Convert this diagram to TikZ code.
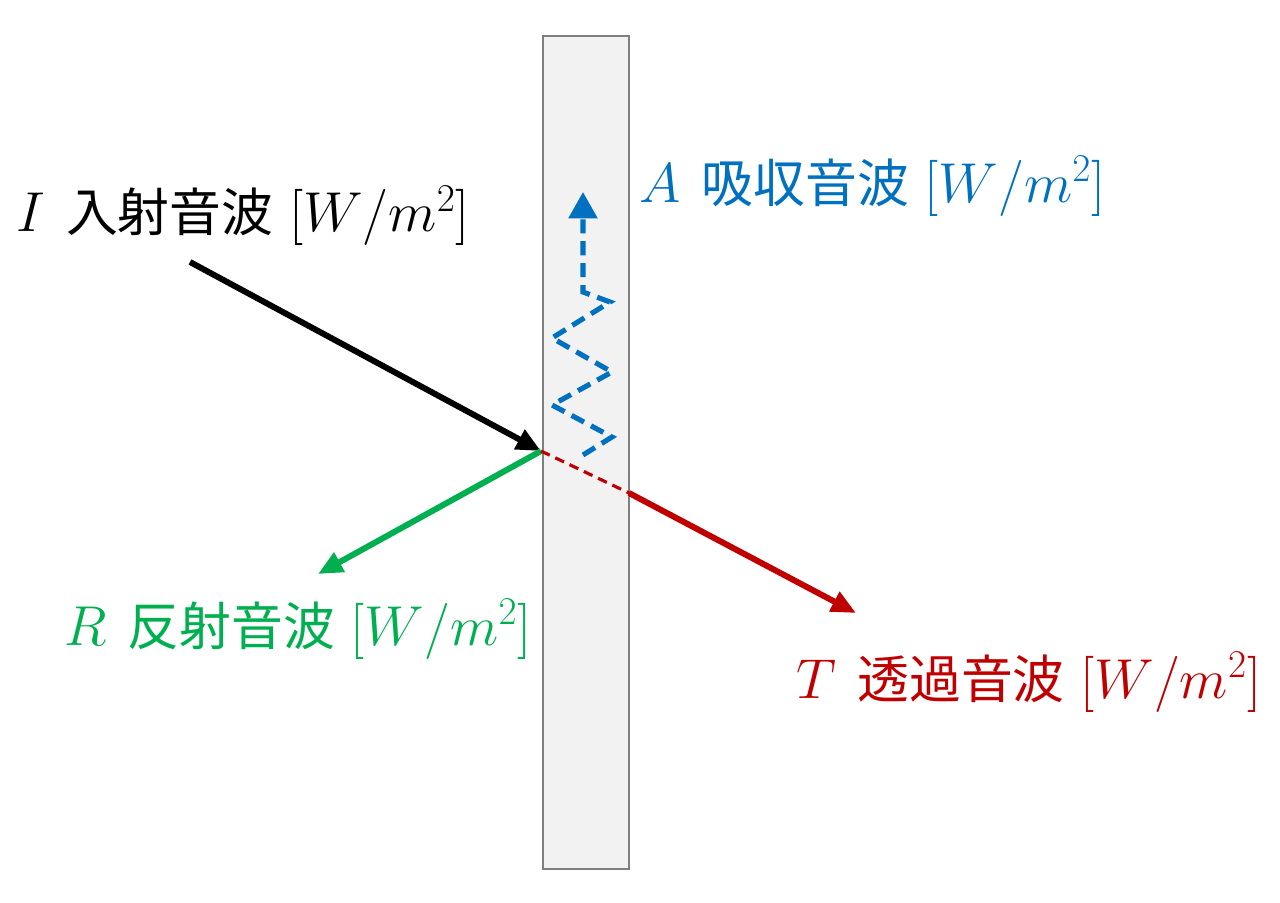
\documentclass[tikz,border=0pt]{standalone}
\usepackage{fix-cm}
\usepackage{fontspec}
\newfontfamily\cjk{Noto Sans CJK JP}
\usetikzlibrary{arrows.meta}

\definecolor{wavered}{HTML}{C00000}
\definecolor{wavegreen}{HTML}{00B050}
\definecolor{waveblue}{HTML}{0070C0}
\definecolor{wallfill}{HTML}{F2F2F2}
\definecolor{wallline}{HTML}{7F7F7F}

% letter, kanji, unit
\newcommand{\wavetext}[2]{%
    {\fontsize{32}{36}\selectfont$#1$}\hspace{12pt}%
    {\cjk\fontsize{29.5}{32}\selectfont #2}\hspace{9pt}%
    {\fontsize{32}{36}\selectfont$[W/m^2]$}}

\tikzset{
    wave/.style={line width=3.4pt,-{Triangle[length=14pt,width=12pt]}},
    wavelabel/.style={anchor=base west,inner sep=0pt},
}

\begin{document}
\begin{tikzpicture}[x=0.02cm,y=-0.02cm]
            \useasboundingbox (0,0) rectangle (1280,902);

            \node[draw=wallline,fill=wallfill,line width=0.8pt,minimum width=86*0.02cm,minimum height=833*0.02cm,inner sep=0pt] (wall) at (586,452.5) {};

            \coordinate (hit) at (541,451);
            \coordinate (Isrc) at (190,262);
            \coordinate (Rend) at (318,574);
            \coordinate (Tout) at (629,493);
            \coordinate (Tend) at (856,613);

            \node[wavelabel] (Ilab) at (16,232) {\wavetext{I}{入射音波}};
            \node[wavelabel,waveblue] (Alab) at (639,202) {\wavetext{A}{吸収音波}};
            \node[wavelabel,wavegreen] (Rlab) at (64,645) {\wavetext{R}{反射音波}};
            \node[wavelabel,wavered] (Tlab) at (796,698) {\wavetext{T}{透過音波}};

            \draw[wave,black] (Isrc) to (hit);
            \draw[wave,wavegreen] (hit) to (Rend);
            \draw[wavered,line width=1.8pt,dash pattern=on 5.5pt off 3.5pt] (hit) to (Tout);
            \draw[wave,wavered] (Tout) to (Tend);

            \draw[waveblue,line width=2.9pt,dash pattern=on 8pt off 4.5pt,line join=miter,
                  -{Triangle[length=15pt,width=16pt]}]
                (583,455) -- (612,437) -- (552,405) -- (612,372) -- (552,338)
                -- (610,302) -- (583,292) -- (583,192);

            \end{tikzpicture}
\end{document}
